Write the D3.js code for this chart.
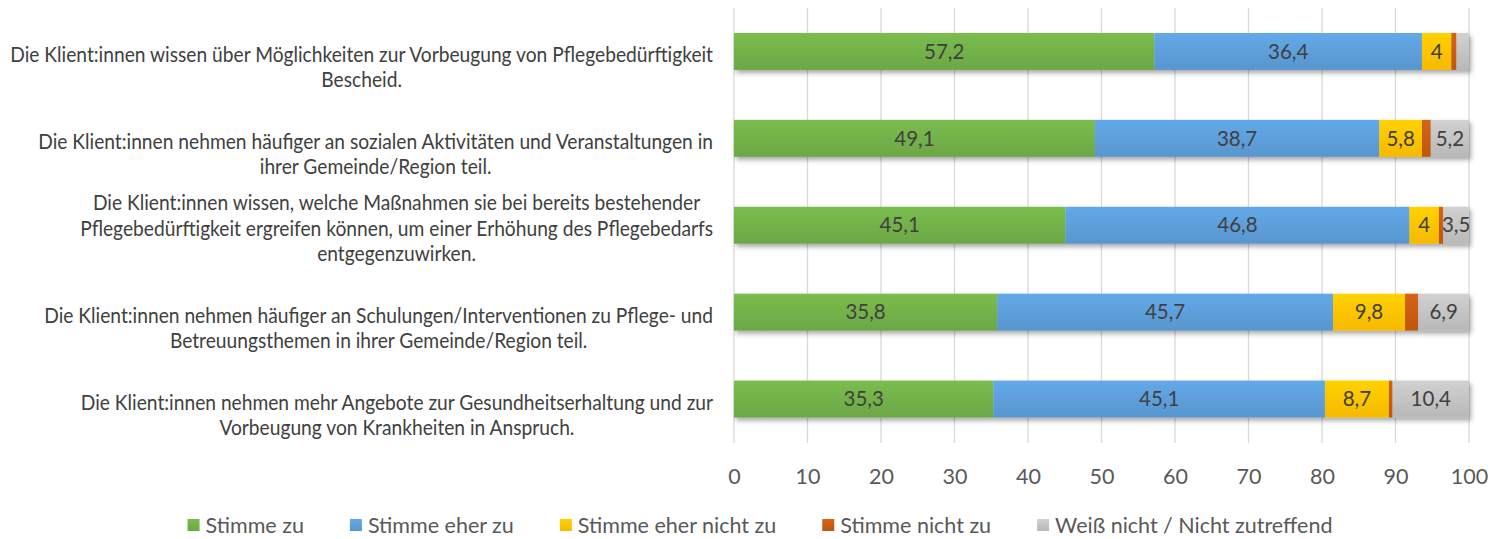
<!DOCTYPE html>
<html>
<head>
<meta charset="utf-8">
<script src="https://cdn.jsdelivr.net/npm/d3@7"></script>
<style>
  body { margin: 0; background: #fff; }
  svg { display: block; font-family: Lato, "Open Sans", sans-serif; }
</style>
</head>
<body>
<svg id="chart" width="1506" height="539"></svg>
<script>
// chart data
const categories = [
  ["Die Klient:innen wissen über Möglichkeiten zur Vorbeugung von Pflegebedürftigkeit", "Bescheid."],
  ["Die Klient:innen nehmen häufiger an sozialen Aktivitäten und Veranstaltungen in", "ihrer Gemeinde/Region teil."],
  ["Die Klient:innen wissen, welche Maßnahmen sie bei bereits bestehender", "Pflegebedürftigkeit ergreifen können, um einer Erhöhung des Pflegebedarfs", "entgegenzuwirken."],
  ["Die Klient:innen nehmen häufiger an Schulungen/Interventionen zu Pflege- und", "Betreuungsthemen in ihrer Gemeinde/Region teil."],
  ["Die Klient:innen nehmen mehr Angebote zur Gesundheitserhaltung und zur", "Vorbeugung von Krankheiten in Anspruch."]
];
const seriesNames = ["Stimme zu", "Stimme eher zu", "Stimme eher nicht zu", "Stimme nicht zu", "Weiß nicht / Nicht zutreffend"];
const stimmeZu = [57.2, 49.1, 45.1, 35.8, 35.3];
const stimmeEherZu = [36.4, 38.7, 46.8, 45.7, 45.1];
const stimmeEherNichtZu = [4, 5.8, 4, 9.8, 8.7];
const stimmeNichtZu = [0.7, 1.2, 0.6, 1.8, 0.5];
const weissNicht = [1.7, 5.2, 3.5, 6.9, 10.4];
const xTicks = [0, 10, 20, 30, 40, 50, 60, 70, 80, 90, 100];
const colors = ["#70AD47", "#5B9BD5", "#FFC000", "#C55A11", "#BFBFBF"];
const showLabel = [true, true, true, false, true];

const seriesValues = [stimmeZu, stimmeEherZu, stimmeEherNichtZu, stimmeNichtZu, weissNicht];
const table = categories.map((c, i) => {
  const row = { idx: i };
  seriesNames.forEach((s, j) => row[s] = seriesValues[j][i]);
  return row;
});

const svg = d3.select("#chart");
const textColor = "#404040";
const fs = 21.5;

const x = d3.scaleLinear().domain([0, 100]).range([734, 1469]);
const y = d3.scaleBand()
  .domain(categories.map((c, i) => i))
  .range([8, 442.5])
  .paddingInner(0.575)
  .paddingOuter(0.2875);

// Lato is wider than the original font, squeeze the category labels
const probe = svg.append("text").attr("font-size", fs).text(categories[0][0]);
const squeeze = 703 / probe.node().getComputedTextLength();
probe.remove();

// gradients + shadow
const defs = svg.append("defs");
colors.forEach((c, j) => {
  const g = defs.append("linearGradient").attr("id", "grad" + j)
    .attr("x1", 0).attr("y1", 0).attr("x2", 0).attr("y2", 1);
  g.append("stop").attr("offset", "0%").attr("stop-color", d3.color(c).brighter(0.25));
  g.append("stop").attr("offset", "100%").attr("stop-color", d3.color(c).darker(0.1));
});
const f = defs.append("filter").attr("id", "shadow")
  .attr("x", "-5%").attr("y", "-30%").attr("width", "110%").attr("height", "170%");
f.append("feDropShadow").attr("dx", 2).attr("dy", 3).attr("stdDeviation", 2.5)
  .attr("flood-color", "#000").attr("flood-opacity", 0.35);

// gridlines
svg.append("g").selectAll("line")
  .data(xTicks)
  .join("line")
  .attr("x1", d => x(d)).attr("x2", d => x(d))
  .attr("y1", 8).attr("y2", 443)
  .attr("stroke", "#d9d9d9")
  .attr("stroke-width", 1.3);

// stacked bars
const stacked = d3.stack().keys(seriesNames)(table);

const barG = svg.append("g").attr("filter", "url(#shadow)");
stacked.forEach((layer, j) => {
  barG.selectAll(".s" + j)
    .data(layer)
    .join("rect")
    .attr("class", "s" + j)
    .attr("x", d => x(d[0]))
    .attr("width", d => x(d[1]) - x(d[0]))
    .attr("y", d => y(d.data.idx))
    .attr("height", y.bandwidth())
    .attr("fill", `url(#grad${j})`);
});

// data labels
stacked.forEach((layer, j) => {
  if (!showLabel[j]) return;
  svg.append("g").selectAll("text")
    .data(layer.filter(d => d[1] - d[0] >= 3))
    .join("text")
    .attr("x", d => x((d[0] + d[1]) / 2))
    .attr("y", d => y(d.data.idx) + y.bandwidth() / 2)
    .attr("dy", "0.35em")
    .attr("text-anchor", "middle")
    .attr("font-size", fs - 1)
    .attr("fill", textColor)
    .text(d => d3.format(".1~f")(d[1] - d[0]).replace(".", ","));
});

// category labels (block right-aligned, lines centred)
const lineH = 25.5;
categories.forEach((lines, i) => {
  const g = svg.append("g").attr("transform", `translate(713,0) scale(${squeeze},1)`);
  const t = g.selectAll("text")
    .data(lines)
    .join("text")
    .attr("font-size", fs)
    .attr("fill", textColor)
    .attr("text-anchor", "middle")
    .attr("dy", "0.35em")
    .attr("y", (d, k) => y(i) + y.bandwidth() / 2 + 3 + (k - lines.length + 2) * lineH)
    .text(d => d);
  let maxW = 0;
  t.each(function () { maxW = Math.max(maxW, this.getComputedTextLength()); });
  t.attr("x", -maxW / 2);
});

// x axis labels
const xAxis = d3.axisBottom(x).tickValues(xTicks).tickSize(0).tickPadding(0);
const ax = svg.append("g").attr("transform", "translate(0,476)").call(xAxis);
ax.select(".domain").remove();
ax.selectAll("text")
  .attr("font-size", fs)
  .attr("font-family", "Lato, 'Open Sans', sans-serif")
  .attr("fill", "#595959")
  .attr("dy", "0.35em")
  .attr("y", 0);

// legend
const legend = svg.append("g");
const items = legend.selectAll("g").data(seriesNames).join("g");
items.append("rect").attr("width", 12).attr("height", 12).attr("y", -6)
  .attr("fill", (d, j) => `url(#grad${j})`);
items.append("text").attr("x", 18).attr("dy", "0.35em")
  .attr("font-size", fs).attr("fill", "#595959").text(d => d);
let cx = 0;
items.each(function () {
  const w = d3.select(this).select("text").node().getComputedTextLength();
  d3.select(this).attr("transform", `translate(${cx},0)`);
  cx += 18 + w + 46;
});
const total = cx - 46;
legend.attr("transform", `translate(${760 - total / 2},525)`);
</script>
</body>
</html>
